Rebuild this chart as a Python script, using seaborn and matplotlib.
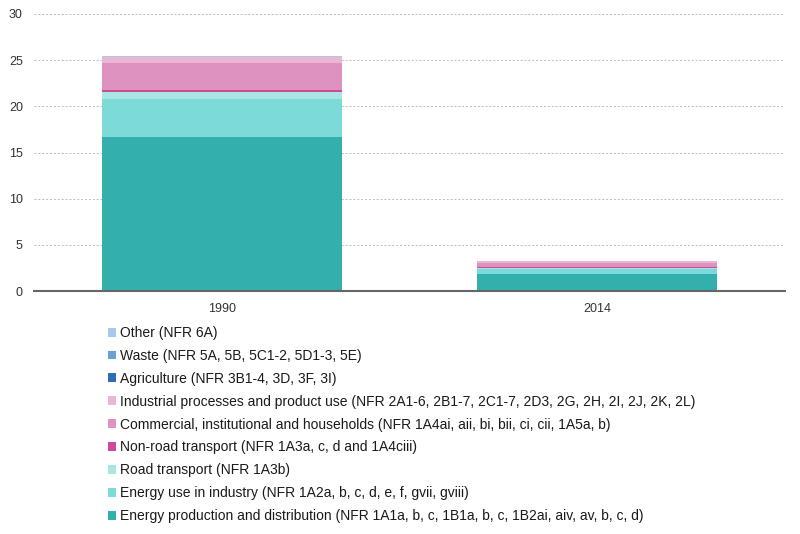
import numpy as np
import pandas as pd
import matplotlib
matplotlib.use("Agg")
import matplotlib.pyplot as plt
import seaborn as sns
from matplotlib.patches import Patch

years = ["1990", "2014"]
series = [
    "Energy production and distribution (NFR 1A1a, b, c, 1B1a, b, c, 1B2ai, aiv, av, b, c, d)",
    "Energy use in industry (NFR 1A2a, b, c, d, e, f, gvii, gviii)",
    "Road transport (NFR 1A3b)",
    "Non-road transport (NFR 1A3a, c, d and 1A4ciii)",
    "Commercial, institutional and households (NFR 1A4ai, aii, bi, bii, ci, cii, 1A5a, b)",
    "Industrial processes and product use (NFR 2A1-6, 2B1-7, 2C1-7, 2D3, 2G, 2H, 2I, 2J, 2K, 2L)",
    "Agriculture (NFR 3B1-4, 3D, 3F, 3I)",
    "Waste (NFR 5A, 5B, 5C1-2, 5D1-3, 5E)",
    "Other (NFR 6A)",
]
energy_production = [16.7, 1.85]
energy_industry = [4.1, 0.5]
road_transport = [0.7, 0.12]
non_road_transport = [0.3, 0.08]
commercial = [2.9, 0.5]
industrial = [0.6, 0.15]
agriculture = [0.01, 0.01]
waste = [0.05, 0.03]
other = [0.05, 0.04]
values = [energy_production, energy_industry, road_transport, non_road_transport,
          commercial, industrial, agriculture, waste, other]
colors = ["#33AFAD", "#7CDAD8", "#A9E7E5", "#CC4A98", "#DE92C0",
          "#EAB6D3", "#2F6DB5", "#6BA1D9", "#A7C9EC"]

sns.set_theme(style="white")
plt.rcParams['font.family'] = ['Liberation Sans', 'DejaVu Sans']

fig = plt.figure(figsize=(8, 5.34), dpi=100)
ax = fig.add_axes([34/800, 1-291/534, (785-34)/800, (291-14)/534])

cum = np.cumsum(np.array(values), axis=0)
for i in range(len(series) - 1, -1, -1):
    df = pd.DataFrame({"year": years, "value": cum[i]})
    sns.barplot(data=df, x="year", y="value", color=colors[i], width=0.64,
                saturation=1, ax=ax, linewidth=0, zorder=3)

ax.set_ylim(0, 30)
ax.set_xlim(-0.5, 1.5)
ax.set_yticks(range(0, 31, 5))
ax.yaxis.grid(True, linestyle=(0, (2, 2)), color="#BBBBBB", linewidth=0.7, zorder=0)
ax.set_axisbelow(True)
for s in ["left", "right", "top"]:
    ax.spines[s].set_visible(False)
ax.spines["bottom"].set_color("#666666")
ax.spines["bottom"].set_linewidth(1.5)
ax.spines["bottom"].set_zorder(5)
ax.set_xlabel("")
ax.set_ylabel("")
ax.tick_params(axis="both", length=0, labelsize=9, labelcolor="#333333")
ax.tick_params(axis="x", pad=9)
ax.tick_params(axis="y", pad=8)

handles = [Patch(facecolor=colors[i], edgecolor="none", label=series[i])
           for i in range(len(series) - 1, -1, -1)]
fig.legend(handles=handles, loc="upper left", bbox_to_anchor=(108/800, 1-326/534),
           frameon=False, fontsize=10, handlelength=0.6, handleheight=0.6,
           handletextpad=0.3, labelspacing=0.64, borderaxespad=0, borderpad=0,
           labelcolor="#1a1a1a")

fig.savefig("out.png", dpi=100)
